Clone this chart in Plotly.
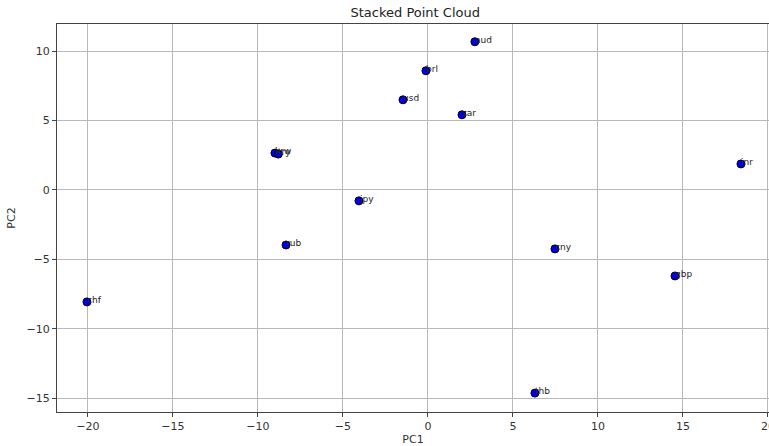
import plotly.graph_objects as go

# Currency coordinates on the first two principal components
currencies = ["aud", "brl", "usd", "zar", "krw", "try", "inr", "jpy", "rub", "cny", "gbp", "chf", "thb"]
pc1 = [2.76, -0.12, -1.47, 2.00, -9.00, -8.80, 18.41, -4.06, -8.35, 7.47, 14.53, -20.06, 6.29]
pc2 = [10.67, 8.58, 6.49, 5.41, 2.65, 2.58, 1.87, -0.79, -3.97, -4.25, -6.20, -8.07, -14.64]

x_ticks = [-20, -15, -10, -5, 0, 5, 10, 15, 20]
y_ticks = [-15, -10, -5, 0, 5, 10]

font_family = "DejaVu Sans, Liberation Sans, sans-serif"

fig = go.Figure()
fig.add_trace(go.Scatter(
    x=pc1, y=pc2, mode="markers",
    marker=dict(size=8, color="#0000ee", line=dict(color="black", width=1)),
    hoverinfo="text", text=currencies, showlegend=False,
))

# Each point is labelled with its currency code, anchored at the point
for name, xv, yv in zip(currencies, pc1, pc2):
    fig.add_annotation(
        x=xv, y=yv, text=name, showarrow=False,
        xanchor="left", yanchor="bottom", xshift=-2, yshift=-5,
        font=dict(family=font_family, size=9, color="#222"),
    )

axis_common = dict(
    showgrid=True, gridcolor="#b9b9b9", gridwidth=1,
    zeroline=False, showline=True, linecolor="#444", linewidth=1,
    ticks="outside", ticklen=4, tickcolor="#444", automargin=False,
    tickfont=dict(family=font_family, size=11, color="#333"),
)

fig.update_layout(
    width=769, height=446,
    margin=dict(l=57, r=0, t=24, b=34),
    plot_bgcolor="white", paper_bgcolor="white",
    title=dict(text="Stacked Point Cloud", x=0.54, xanchor="center", y=0.972, yanchor="middle",
               font=dict(family=font_family, size=13, color="#222")),
    xaxis=dict(range=[-21.82, 20.06], tickvals=x_ticks, mirror=True, ticklabeloverflow="allow",
               title=dict(text="PC1", font=dict(family=font_family, size=11, color="#333"), standoff=4),
               **axis_common),
    yaxis=dict(range=[-16.0, 11.95], tickvals=y_ticks, mirror=False,
               title=dict(text="PC2", font=dict(family=font_family, size=11, color="#333"), standoff=8),
               **axis_common),
)

fig.write_html("out.html")
